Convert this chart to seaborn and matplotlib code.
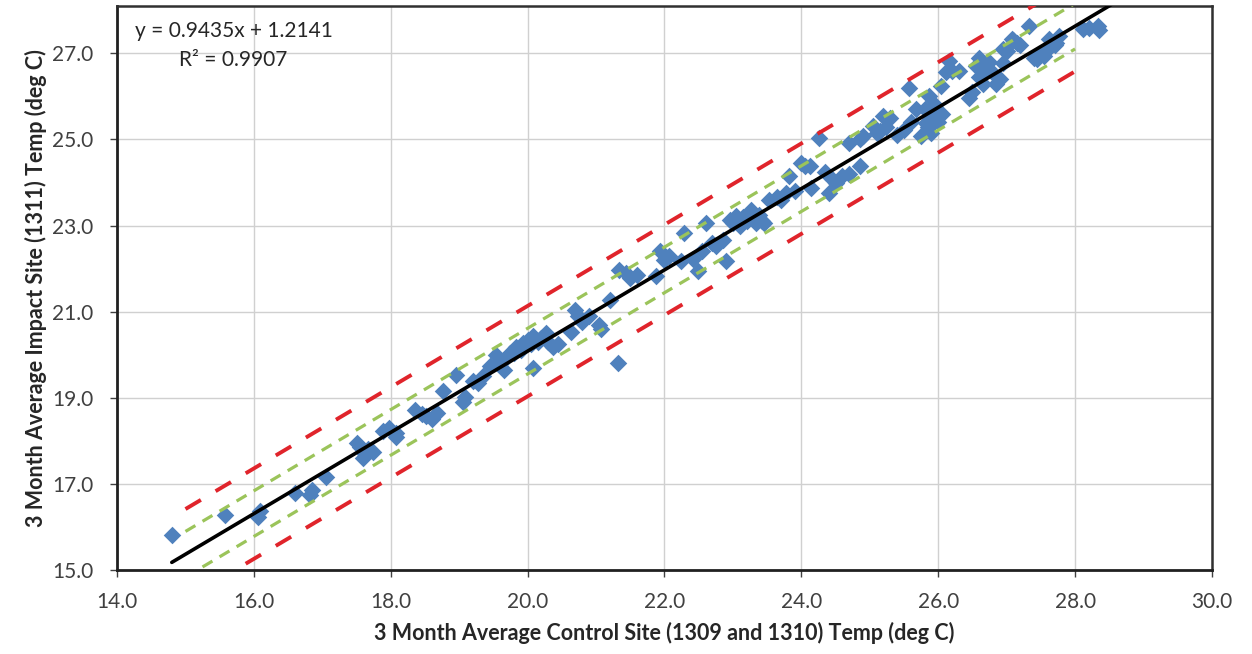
import numpy as np
import pandas as pd
import matplotlib
matplotlib.use("Agg")
import matplotlib.pyplot as plt
import seaborn as sns

# ---- data ----
control_temp = [
    14.80, 15.58, 16.06, 16.09, 16.60, 16.82, 16.85, 17.06, 17.50, 17.60,
    17.67, 17.74, 17.62, 17.89, 17.98, 18.08,
    18.08, 18.35, 18.52, 18.67, 18.60, 18.76, 18.96, 19.08, 19.06, 19.28,
    19.20, 19.45, 19.54, 19.66, 19.74, 19.83, 19.93, 20.00, 20.08, 20.08,
    20.15, 20.27, 20.37, 20.30, 20.64, 20.69, 20.73, 20.90, 21.05, 21.07,
    21.20, 21.32, 21.34, 21.49, 21.60, 19.60, 19.90, 19.35,
    21.44, 21.88, 21.93, 22.07, 22.24, 22.29, 22.49, 22.42, 22.61, 22.75,
    22.90, 22.86, 22.95, 23.05, 23.10, 23.26, 23.33, 23.42, 23.53, 23.65,
    23.77, 23.82, 23.99, 24.06, 24.14, 24.13, 24.26, 24.41, 24.46, 24.60,
    24.70, 24.70, 24.85, 23.15, 23.00, 22.70,
    24.85, 24.90, 25.04, 25.19, 25.24, 25.50, 25.58, 25.67, 25.75, 25.82,
    25.87, 25.90, 25.96, 26.04, 26.11, 26.16, 26.45, 26.50, 26.55, 26.60,
    26.69, 26.74, 26.84, 26.90, 26.94, 27.08, 27.10, 27.20, 27.33, 27.45,
    27.50, 27.62, 27.72, 27.77, 28.11, 28.20, 28.33, 28.35, 25.95, 26.00,
    26.30, 25.40, 25.10, 26.60, 27.60, 27.00,
    19.70, 19.80, 20.05, 20.20, 20.45, 20.80, 23.20, 23.38, 23.45, 23.70,
    23.90, 24.50, 24.35, 25.15, 25.30, 25.60, 25.80, 25.85, 26.05, 26.20,
    26.65, 26.80, 26.95, 27.15, 27.55, 27.70, 27.40, 18.45, 17.55, 22.00,
    22.55,
]
impact_temp = [
    15.81, 16.28, 16.24, 16.36, 16.80, 16.75, 16.85, 17.17, 17.95, 17.60,
    17.82, 17.75, 17.70, 18.22, 18.30, 18.10,
    18.18, 18.72, 18.57, 18.64, 18.50, 19.15, 19.53, 19.03, 18.91, 19.34,
    19.40, 19.73, 20.00, 19.65, 20.04, 20.19, 20.27, 20.35, 19.69, 20.43,
    20.30, 20.50, 20.19, 20.30, 20.54, 21.05, 20.90, 20.89, 20.70, 20.60,
    21.28, 19.81, 21.98, 21.78, 21.85, 19.85, 20.10, 19.50,
    21.90, 21.82, 22.40, 22.29, 22.17, 22.83, 21.94, 22.23, 23.06, 22.52,
    22.17, 22.67, 23.14, 23.22, 23.00, 23.37, 23.06, 23.10, 23.60, 23.67,
    23.75, 24.15, 24.46, 24.38, 23.88, 24.38, 25.04, 23.76, 24.07, 24.15,
    24.20, 24.92, 24.38, 23.20, 23.05, 22.60,
    25.00, 25.08, 25.31, 25.55, 25.28, 25.23, 26.20, 25.70, 25.08, 25.39,
    26.01, 25.16, 25.55, 26.25, 26.56, 26.83, 25.97, 26.10, 26.71, 26.90,
    26.63, 26.80, 26.28, 26.40, 26.78, 27.33, 27.30, 27.20, 27.64, 26.86,
    27.00, 27.33, 27.25, 27.40, 27.56, 27.60, 27.64, 27.55, 25.80, 25.40,
    26.60, 25.10, 25.15, 26.45, 27.10, 27.05,
    19.95, 20.05, 20.25, 20.40, 20.25, 20.75, 23.10, 23.25, 23.05, 23.60,
    23.80, 24.00, 24.25, 25.20, 25.50, 25.40, 25.70, 25.30, 25.60, 26.60,
    26.30, 26.55, 27.10, 27.25, 26.95, 27.20, 26.90, 18.62, 17.85, 22.20,
    22.40,
]

slope = 0.9435
intercept = 1.2141
r_squared = 0.9907
inner_band = 0.53   # green dashed offset (deg C)
outer_band = 1.05   # red dashed offset (deg C)

x_ticks = [14.0, 16.0, 18.0, 20.0, 22.0, 24.0, 26.0, 28.0, 30.0]
y_ticks = [15.0, 17.0, 19.0, 21.0, 23.0, 25.0, 27.0]

xlabel = "3 Month Average Control Site (1309 and 1310) Temp (deg C)"
ylabel = "3 Month Average Impact Site (1311) Temp (deg C)"

# ---- plotting ----
sns.set_theme(style="white")
plt.rcParams["font.family"] = ["Lato", "DejaVu Sans"]

df = pd.DataFrame({"control": control_temp, "impact": impact_temp})

fig = plt.figure(figsize=(12.52, 6.54), dpi=100)
ax = fig.add_axes([0.0935, 0.1284, 0.968 - 0.0935, 0.9908 - 0.1284])

sns.scatterplot(data=df, x="control", y="impact", marker="D", s=80,
                color="#4F81BD", linewidth=0, ax=ax, zorder=3)

# regression line and bands
fit_x = np.array([min(control_temp), max(control_temp) + 0.2])
band_x = np.array([15.0, 28.0])
lines = pd.DataFrame({
    "x": np.concatenate([band_x] * 4),
    "y": np.concatenate([
        slope * band_x + intercept + outer_band,
        slope * band_x + intercept - outer_band,
        slope * band_x + intercept + inner_band,
        slope * band_x + intercept - inner_band,
    ]),
    "band": ["ou"] * 2 + ["ol"] * 2 + ["iu"] * 2 + ["il"] * 2,
})
for key, col, lw, dash in [("ou", "#E0242B", 2.8, (4.6, 4.4)),
                           ("ol", "#E0242B", 2.8, (4.6, 4.4)),
                           ("iu", "#9BC45A", 2.3, (3.6, 2.6)),
                           ("il", "#9BC45A", 2.3, (3.6, 2.6))]:
    sub = lines[lines["band"] == key]
    ax.plot(sub["x"], sub["y"], color=col, lw=lw, dashes=dash, zorder=4,
            dash_capstyle="butt")

ax.plot(fit_x, slope * fit_x + intercept, color="black", lw=2.6, zorder=5)

ax.set_xlim(14.0, 30.0)
ax.set_ylim(15.0, 28.1)
ax.set_xticks(x_ticks)
ax.set_yticks(y_ticks)
ax.set_xticklabels([f"{v:.1f}" for v in x_ticks])
ax.set_yticklabels([f"{v:.1f}" for v in y_ticks])
ax.grid(True, color="#D0D0D0", lw=1.0)
ax.set_axisbelow(True)

ax.tick_params(axis="both", direction="out", length=5, width=1.0,
               color="#404040", labelsize=15, labelcolor="#404040",
               left=True, bottom=True)
ax.tick_params(axis="x", pad=11)
ax.tick_params(axis="y", pad=12)

for side in ["left", "bottom"]:
    ax.spines[side].set_color("#202020")
    ax.spines[side].set_linewidth(2.0)
for side in ["top", "right"]:
    ax.spines[side].set_color("#303030")
    ax.spines[side].set_linewidth(1.8)
    ax.spines[side].set_visible(True)

ax.set_xlabel(xlabel, fontsize=15.5, fontweight="bold", color="#262626", labelpad=7)
ax.set_ylabel(ylabel, fontsize=15.5, fontweight="bold", color="#262626", labelpad=4)

ax.text(0.016, 0.955, f"y = {slope}x + {intercept}", transform=ax.transAxes,
        fontsize=15, color="#262626", va="center", ha="left")
ax.text(0.057, 0.905, f"R\u00b2 = {r_squared}", transform=ax.transAxes,
        fontsize=15, color="#262626", va="center", ha="left")

fig.savefig("out.png", dpi=100)
